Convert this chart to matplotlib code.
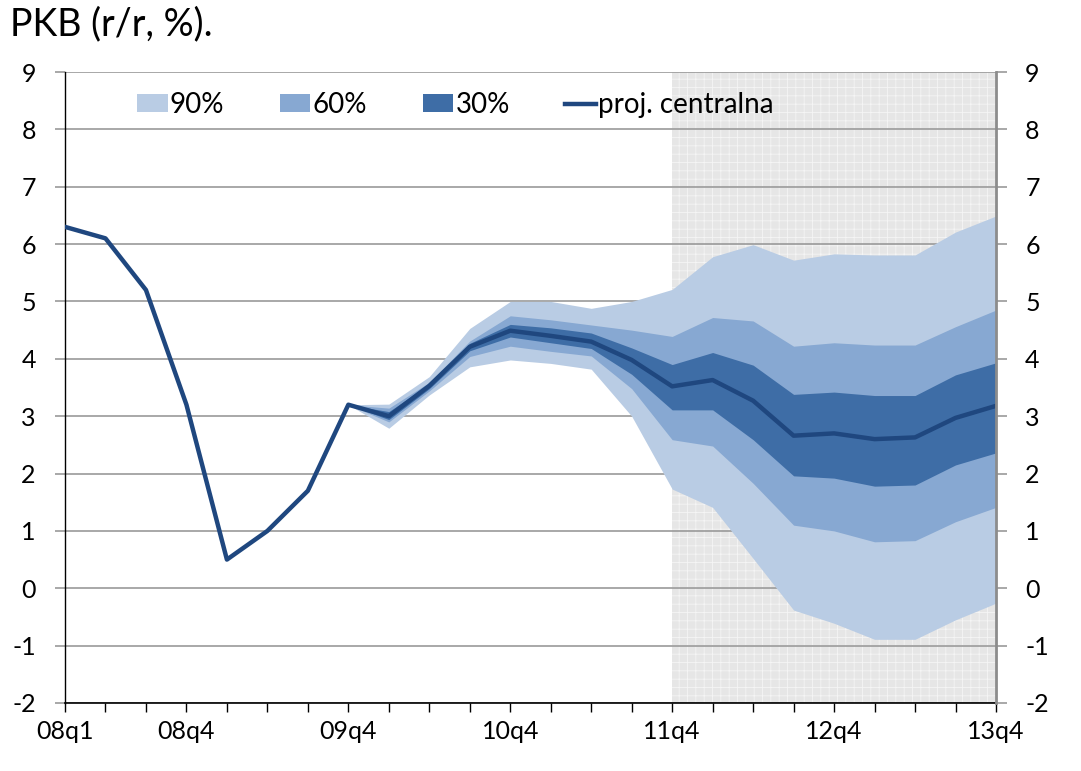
import matplotlib
matplotlib.use("Agg")
import matplotlib.pyplot as plt

plt.rcParams["font.family"] = ["Lato", "DejaVu Sans"]
plt.rcParams["axes.unicode_minus"] = False
plt.rcParams["hatch.linewidth"] = 0.6
plt.rcParams["hatch.color"] = "#f7f7f7"

# quarters 08q1 .. 13q4
quarters = [f"{y:02d}q{q}" for y in range(8, 14) for q in range(1, 5)]
tick_idx = [0, 3, 7, 11, 15, 19, 23]
tick_labels = [quarters[i] for i in tick_idx]

central = [6.3, 6.1, 5.2, 3.2, 0.5, 1.0, 1.7, 3.2, 3.0, 3.53, 4.21, 4.49,
           4.40, 4.30, 3.98, 3.52, 3.63, 3.27, 2.66, 2.70, 2.60, 2.63, 2.97, 3.18]

# fan chart bands start at 09q4 (index 7)
fan_start = 7
up90 = [3.2, 3.21, 3.69, 4.53, 5.00, 5.00, 4.88, 5.00, 5.21, 5.78, 5.99, 5.72, 5.83, 5.81, 5.81, 6.21, 6.49]
lo90 = [3.2, 2.79, 3.37, 3.86, 3.98, 3.92, 3.82, 3.00, 1.73, 1.41, 0.52, -0.38, -0.61, -0.89, -0.89, -0.55, -0.26]
up60 = [3.2, 3.14, 3.59, 4.31, 4.75, 4.68, 4.59, 4.50, 4.39, 4.72, 4.66, 4.22, 4.28, 4.24, 4.24, 4.56, 4.85]
lo60 = [3.2, 2.90, 3.44, 4.04, 4.22, 4.13, 4.05, 3.48, 2.59, 2.48, 1.83, 1.10, 1.00, 0.81, 0.83, 1.16, 1.41]
up30 = [3.2, 3.08, 3.56, 4.27, 4.60, 4.54, 4.45, 4.19, 3.90, 4.11, 3.89, 3.38, 3.42, 3.36, 3.36, 3.72, 3.93]
lo30 = [3.2, 2.94, 3.48, 4.14, 4.38, 4.28, 4.18, 3.73, 3.11, 3.11, 2.59, 1.96, 1.92, 1.78, 1.80, 2.15, 2.36]

forecast_start = 15  # 11q4
C90, C60, C30, CLINE = "#b9cce4", "#87a8d2", "#3e6da6", "#1f477f"

fig = plt.figure(figsize=(10.81, 7.71), dpi=100)
ax = fig.add_axes([65 / 1081, 1 - 703 / 771, 931 / 1081, 631 / 771])

x_all = list(range(len(quarters)))
x_fan = x_all[fan_start:]

ax.axvspan(forecast_start, len(quarters) - 1, facecolor="#e6e6e6", edgecolor="#f5f5f5",
           hatch="++", linewidth=0, zorder=0)

ax.fill_between(x_fan, lo90, up90, color=C90, linewidth=0, zorder=2, label="90%")
ax.fill_between(x_fan, lo60, up60, color=C60, linewidth=0, zorder=3, label="60%")
ax.fill_between(x_fan, lo30, up30, color=C30, linewidth=0, zorder=4, label="30%")
ax.plot(x_all, central, color=CLINE, linewidth=3.2, zorder=5, label="proj. centralna")

ax.set_xlim(0, len(quarters) - 1)
ax.set_ylim(-2, 9)
ax.set_yticks(range(-2, 10))
ax.yaxis.grid(True, color="#9a9a9a", linewidth=1.2)
for gl in ax.get_ygridlines():
    gl.set_zorder(1)

ax.set_xticks(tick_idx)
ax.set_xticklabels(tick_labels)
ax.set_xticks(x_all, minor=True)
ax.tick_params(axis="x", which="both", direction="out", length=6.5, width=1, colors="black",
               labelsize=18, pad=6)
ax.tick_params(axis="y", direction="out", length=7, width=1.2, color="#9a9a9a",
               labelsize=18, pad=14)

for s in ["top", "right"]:
    ax.spines[s].set_visible(False)
ax.spines["left"].set_color("black")
ax.spines["bottom"].set_color("black")
ax.spines["left"].set_linewidth(1)
ax.spines["bottom"].set_linewidth(1.2)

ax2 = ax.twinx()
ax2.set_ylim(-2, 9)
ax2.set_yticks(range(-2, 10))
ax2.tick_params(axis="y", direction="out", length=8, width=1.2, color="#9a9a9a",
                labelsize=18, pad=13)
for s in ["top", "left", "bottom"]:
    ax2.spines[s].set_visible(False)
ax2.spines["right"].set_color("#8c8c8c")
ax2.spines["right"].set_linewidth(2)

handles, labels = ax.get_legend_handles_labels()
ax.legend(handles, labels, loc="center left", bbox_to_anchor=(72 / 931, (703 - 105) / 631),
          ncol=4, frameon=False, fontsize=20, handlelength=1.1, handleheight=0.6,
          handletextpad=0.08, columnspacing=2.0, borderpad=0, borderaxespad=0)

fig.text(10 / 1081, 1 - 6 / 771, "PKB (r/r, %).", fontsize=27, va="top", ha="left")

fig.savefig("out.png", dpi=100)
